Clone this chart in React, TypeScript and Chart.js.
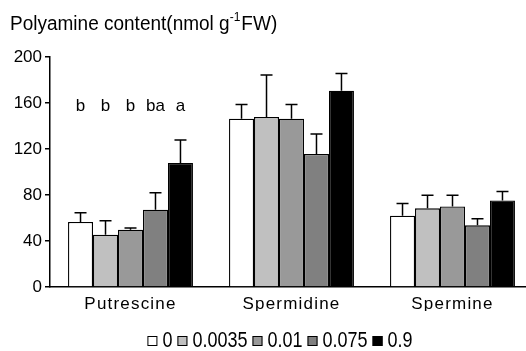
import React, { useEffect, useRef } from "react";
import { Chart, registerables } from "chart.js";

Chart.register(...registerables);

const categories = ["Putrescine", "Spermidine", "Spermine"];
const concentrations = ["0", "0.0035", "0.01", "0.075", "0.9"];
const colors = ["#ffffff", "#c0c0c0", "#999999", "#808080", "#000000"];

const mean0 = [56.5, 146.3, 62];
const mean0035 = [45.5, 147.8, 68.4];
const mean001 = [49.8, 146.3, 70.1];
const mean075 = [67.2, 115.6, 53.6];
const mean09 = [107.8, 170.7, 75.3];

const err0 = [8.1, 12.5, 10.7];
const err0035 = [12.1, 36.5, 11.3];
const err001 = [1.5, 12.5, 9.6];
const err075 = [14.8, 17.4, 5.8];
const err09 = [20, 15, 7.8];

const letters = ["b", "b", "b", "ba", "a"];
const letterLevel = 157;

const yTicks = [0, 40, 80, 120, 160, 200];

const titleMain = "Polyamine content(nmol g";
const titleSup = "-1";
const titleEnd = "FW)";

const means = [mean0, mean0035, mean001, mean075, mean09];
const errs = [err0, err0035, err001, err075, err09];

const FONT = "'Liberation Sans', Arial, sans-serif";
const STRETCH = 1.2;

const errorBarPlugin = {
  id: "errorBars",
  afterDatasetsDraw(chart: any) {
    const ctx = chart.ctx;
    const y = chart.scales.y;
    ctx.save();
    ctx.strokeStyle = "#000";
    ctx.lineWidth = 1.5;
    chart.data.datasets.forEach((ds: any, di: number) => {
      const meta = chart.getDatasetMeta(di);
      meta.data.forEach((bar: any, i: number) => {
        const top = y.getPixelForValue(ds.data[i]);
        const et = y.getPixelForValue(ds.data[i] + errs[di][i]);
        ctx.beginPath();
        ctx.moveTo(bar.x, top);
        ctx.lineTo(bar.x, et);
        ctx.moveTo(bar.x - 6, et);
        ctx.lineTo(bar.x + 6, et);
        ctx.stroke();
      });
    });
    ctx.restore();
  },
  afterDraw(chart: any) {
    const ctx = chart.ctx;
    const y = chart.scales.y;
    ctx.save();
    ctx.fillStyle = "#000";
    // significance letters
    ctx.font = `17px ${FONT}`;
    ctx.textAlign = "center";
    ctx.textBaseline = "middle";
    const ly = y.getPixelForValue(letterLevel);
    letters.forEach((l, di) => {
      const bar = chart.getDatasetMeta(di).data[0];
      ctx.fillText(l, bar.x, ly);
    });

    // title
    ctx.save();
    ctx.textAlign = "left";
    ctx.textBaseline = "alphabetic";
    ctx.translate(10, 30);
    ctx.scale(1, 1.05);
    ctx.font = `19px ${FONT}`;
    ctx.fillText(titleMain, 0, 0);
    let x = ctx.measureText(titleMain).width;
    ctx.font = `12px ${FONT}`;
    ctx.fillText(titleSup, x, -8.5);
    x += ctx.measureText(titleSup).width + 1;
    ctx.font = `19px ${FONT}`;
    ctx.fillText(titleEnd, x, 0);
    ctx.restore();

    // legend
    ctx.save();
    ctx.font = `18px ${FONT}`;
    const box = 10;
    const gapBT = 5;
    const gapItem = 5;
    const widths = concentrations.map((c) => ctx.measureText(c).width);
    const total =
      widths.reduce((a, b) => a + b, 0) + concentrations.length * (box + gapBT) + (concentrations.length - 1) * gapItem;
    let lx = 280 - total / 2;
    const cy = 341;
    concentrations.forEach((c, i) => {
      ctx.fillStyle = colors[i];
      ctx.fillRect(lx, cy - box / 2, box, box);
      ctx.strokeStyle = "#000";
      ctx.lineWidth = 1;
      ctx.strokeRect(lx + 0.5, cy - box / 2 + 0.5, box - 1, box - 1);
      lx += box + gapBT;
      ctx.fillStyle = "#000";
      ctx.save();
      ctx.translate(lx, cy);
      ctx.scale(1, STRETCH);
      ctx.textAlign = "left";
      ctx.textBaseline = "middle";
      ctx.fillText(c, 0, 0);
      ctx.restore();
      lx += widths[i] + gapItem;
    });
    ctx.restore();
    ctx.restore();
  },
};

export default function App() {
  const ref = useRef<HTMLCanvasElement>(null);
  useEffect(() => {
    const chart = new Chart(ref.current!, {
      type: "bar",
      data: {
        labels: categories,
        datasets: concentrations.map((c, i) => ({
          label: c,
          data: means[i],
          backgroundColor: colors[i],
          borderColor: "#000",
          borderWidth: 1.3,
          categoryPercentage: 0.776,
          barPercentage: 1,
        })),
      },
      options: {
        animation: false,
        responsive: false,
        layout: { padding: { top: 57, right: 12, left: 0, bottom: 40 } },
        scales: {
          x: {
            grid: { display: false, drawTicks: false },
            border: { display: true, color: "#000", width: 1.5 },
            ticks: { color: "#000", font: { size: 17, family: FONT }, padding: 7 },
            afterFit(s: any) {
              s.height = 24;
            },
            afterUpdate(s: any) {
              if (!s._lsPatched) {
                const orig = s.drawLabels.bind(s);
                s.drawLabels = (ca: any) => {
                  s.ctx.save();
                  (s.ctx as any).letterSpacing = "1.2px";
                  orig(ca);
                  s.ctx.restore();
                };
                s._lsPatched = true;
              }
            },
          },
          y: {
            min: 0,
            max: 200,
            afterBuildTicks(s: any) {
              s.ticks = yTicks.map((v) => ({ value: v }));
            },
            grid: { drawOnChartArea: false, drawTicks: true, tickLength: 5, color: "#000", lineWidth: 1.5 },
            border: { display: true, color: "#000", width: 1.5 },
            ticks: { color: "#000", font: { size: 17, family: FONT }, padding: 3 },
            afterFit(s: any) {
              s.width = 50;
            },
          },
        },
        plugins: {
          legend: { display: false },
          tooltip: { enabled: false },
        },
      },
      plugins: [errorBarPlugin],
    });
    return () => chart.destroy();
  }, []);
  return (
    <div style={{ position: "absolute", left: 0, top: 0, width: 526, height: 351, overflow: "hidden", background: "#fff" }}>
      <canvas ref={ref} width={545} height={351} style={{ position: "absolute", left: 0, top: 0 }} />
    </div>
  );
}
